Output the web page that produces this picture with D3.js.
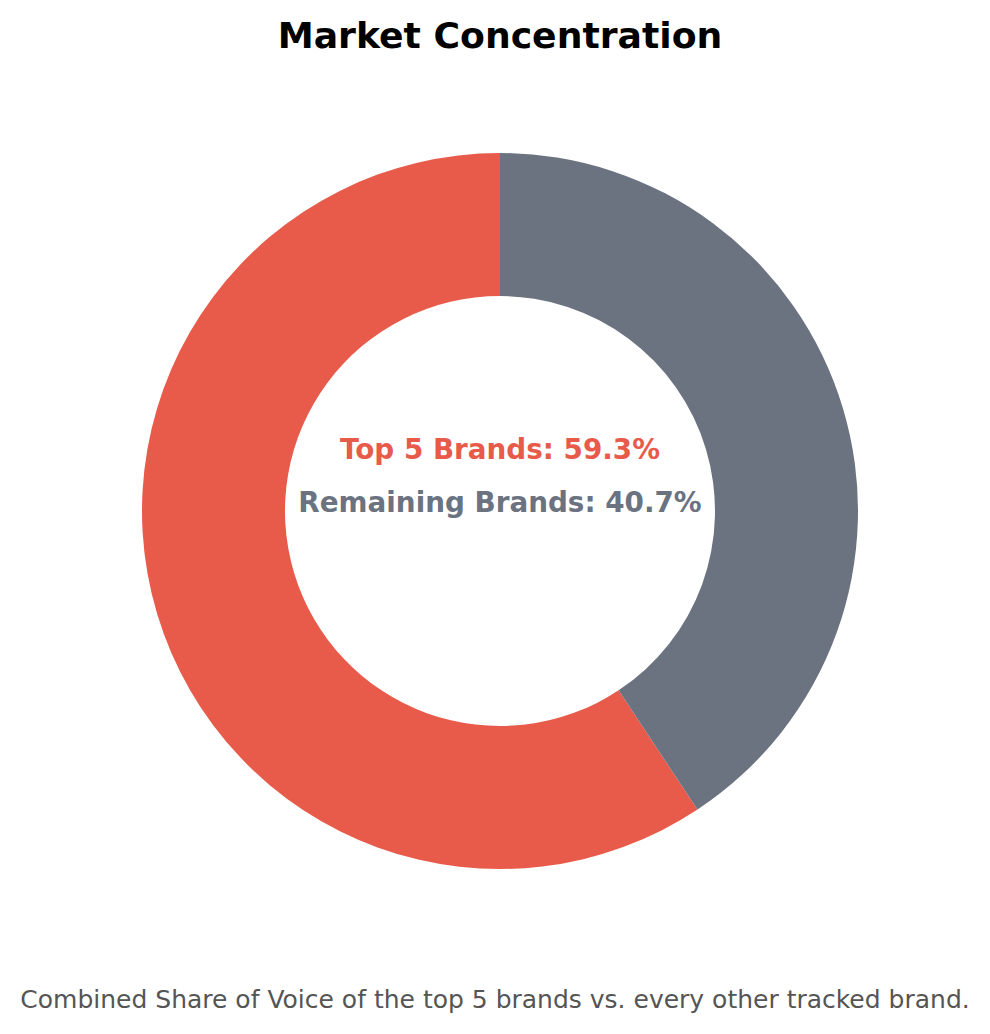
<!DOCTYPE html>
<html>
<head>
<meta charset="utf-8">
<script src="https://cdn.jsdelivr.net/npm/d3@7"></script>
<style>
  body { margin: 0; background: #fff; }
  text { font-family: "DejaVu Sans", sans-serif; }
</style>
</head>
<body>
<script>
// slices, in the order they are drawn (counterclockwise from 12 o'clock)
let categories = ['Top 5 Brands', 'Remaining Brands']
let shares = [59.3, 40.7]
let colors = ['#E85B4A', '#6B7280']

let width = 990
let height = 1034
let cx = 500
let cy = 511
let outerRadius = 358
let innerRadius = 215

let svg = d3.select('body')
            .append('svg')
            .attr('width', width)
            .attr('height', height)

svg.append('text')
    .attr('id', 'title')
    .attr('x', width / 2 + 5)
    .attr('y', 48)
    .attr('text-anchor', 'middle')
    .style('font-size', '36.2px')
    .style('font-weight', 'bold')
    .text('Market Concentration')

let values = categories.map((c, i) => {
    return { name: c, value: shares[i], color: colors[i] }
})

// negative end angle -> counterclockwise, like the reference
let pie = d3.pie()
            .sort(null)
            .value((d) => d.value)
            .startAngle(0)
            .endAngle(-2 * Math.PI)

let arc = d3.arc()
            .innerRadius(innerRadius)
            .outerRadius(outerRadius)

let g = svg.append('g')
            .attr('transform', 'translate(' + cx + ',' + cy + ')')

g.selectAll('path')
    .data(pie(values))
    .enter()
    .append('path')
    .attr('d', arc)
    .attr('fill', (d) => d.data.color)

// center labels
let labelY = [-62, -9]
g.selectAll('.center-label')
    .data(values)
    .enter()
    .append('text')
    .attr('class', 'center-label')
    .attr('x', 0)
    .attr('y', (d, i) => labelY[i])
    .attr('dy', '0.35em')
    .attr('text-anchor', 'middle')
    .attr('fill', (d) => d.color)
    .style('font-size', '27.8px')
    .style('font-weight', 'bold')
    .text((d) => d.name + ': ' + d.value.toFixed(1) + '%')

svg.append('text')
    .attr('x', width / 2)
    .attr('y', 1008)
    .attr('text-anchor', 'middle')
    .attr('fill', '#555555')
    .style('font-size', '25px')
    .text('Combined Share of Voice of the top 5 brands vs. every other tracked brand.')
</script>
</body>
</html>
